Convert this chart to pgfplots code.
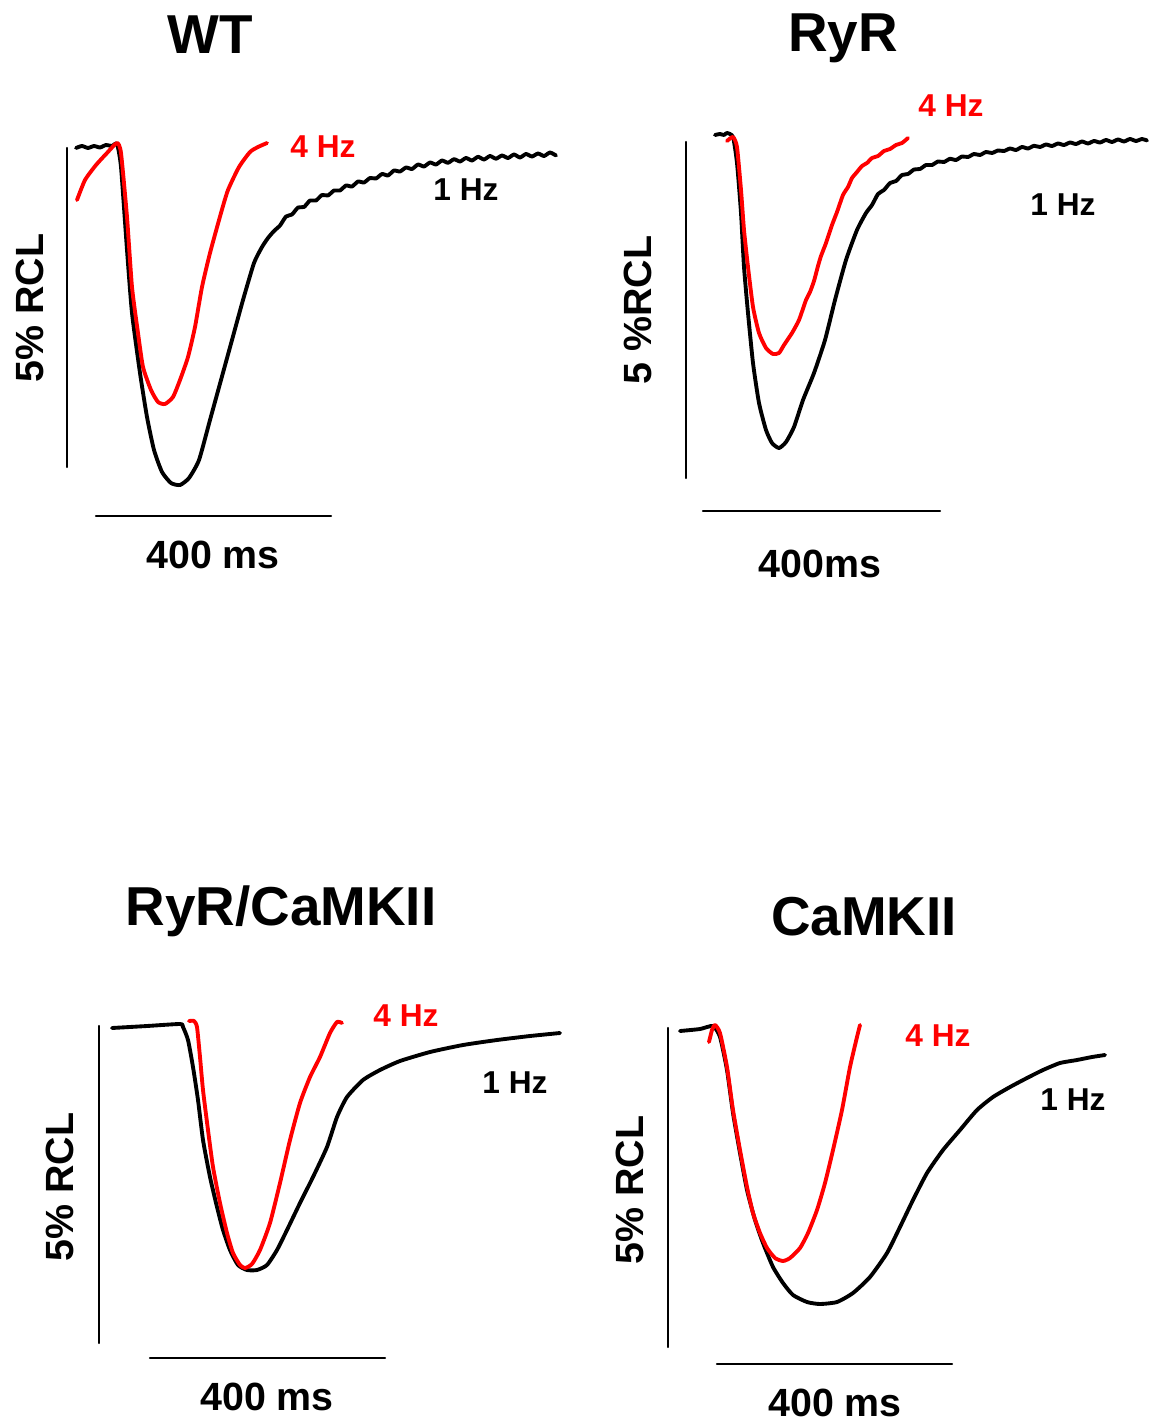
\documentclass[border=0pt]{standalone}
\usepackage{pgfplots}
\pgfplotsset{compat=1.18}
\usepackage{fontspec}
\setmainfont{Liberation Sans}
\definecolor{tr}{RGB}{255,0,0}
\begin{document}
\begin{tikzpicture}
\begin{axis}[
  width=11.49cm, height=14.2cm, scale only axis,
  xmin=0, xmax=1149, ymin=0, ymax=1420, y dir=reverse,
  hide axis, clip=false,
  every axis plot/.append style={no marks, line join=round, line cap=round},
  trace/.style={line width=1.1pt, smooth, tension=0.35},
  bar/.style={black, line width=0.7pt},
]
% ---------- WT ----------
\addplot[bar] coordinates {(67,148) (67,467)};
\addplot[bar] coordinates {(96,516) (331,516)};
\addplot[black, trace] coordinates {
(76,148) (82,146) (88,148) (94,146) (100,147.5) (106,145) (112,146) (117,144) (121,167) (127,250) (132,313) (140,373) (147,417) (154,450) (162,472) (171,483) (180,485) (189,478) (199,460) (210,420) (221,380) (232,340) (243,300) (254,263) (262,247) (268,238) (274,231)
(280,225.5) (286,216.5) (292,214.5) (298,207.5) (304,207) (310,200.5) (316,200.5) (322,195) (328,195.5) (334,190.5) (340,190.5) (346,185.5) (352,186.5) (358,181.5) (364,182.5) (370,178) (376,178.5) (382,174) (388,175.5) (394,170.5) (400,171.5) (406,167.5) (412,169) (418,164.5) (424,166.5) (430,162.5) (436,164.5) (442,160.5) (448,162.8) (454,159.2) (460,161.5) (466,158) (472,160.5) (478,156.8) (484,159.5) (490,156) (496,158.7) (502,155.5) (508,158) (514,154.5) (520,157.5) (526,154) (532,156.5) (538,153.5) (544,156) (550,152.5) (556,155.5)};
\addplot[tr, trace] coordinates {
(77,200) (85,180) (96,165) (107,153) (117,143) (121,153) (127,217) (132,287) (138,333) (143,367) (151,390) (158,402) (165,404) (173,397) (180,380) (188,357) (195,327) (202,287) (210,253) (221,213) (228,190) (239,167) (250,152) (258,147) (267,143)};
\node[font=\fontsize{15.6}{18}\selectfont\bfseries] at (axis cs:210,35) {WT};
\node[font=\fontsize{11.2}{13}\selectfont\bfseries] at (axis cs:213,555) {400 ms};
\node[font=\fontsize{11.2}{13}\selectfont\bfseries, rotate=90] at (axis cs:30,308) {5\% RCL};
\node[font=\fontsize{9}{11}\selectfont\bfseries, text=tr] at (axis cs:323,147) {4 Hz};
\node[font=\fontsize{9}{11}\selectfont\bfseries] at (axis cs:466,190) {1 Hz};
% ---------- RyR ----------
\addplot[bar] coordinates {(686,142) (686,478)};
\addplot[bar] coordinates {(703,511) (940,511)};
\addplot[black, trace] coordinates {
(715,135) (720,134) (724,135) (727,133) (733,137) (737,163) (741,213) (744,267) (748,313) (753,363) (759,403) (766,430) (772,443) (779,448) (786,442) (794,427) (803,400) (814,373) (825,340) (835,300) (846,260) (857,230)
(866,213) (872,205) (878,194) (884,190) (890,183) (896,181) (902,175) (908,174) (914,169.5) (920,169) (926,165) (932,165) (938,161.5) (944,162) (950,158.8) (956,160) (962,156.5) (968,157) (974,154) (980,155) (986,152) (992,153) (998,150.5) (1004,151) (1010,148.5) (1016,150) (1022,147) (1028,148.5) (1034,145.8) (1040,147) (1046,144.5) (1052,146) (1058,143.5) (1064,145) (1070,142.5) (1076,144) (1082,141.5) (1088,143.5) (1094,141) (1100,142.5) (1106,140) (1112,142) (1118,139.5) (1124,141.5) (1130,139) (1136,141) (1142,139) (1147,140.5)};
\addplot[tr, trace] coordinates {
(727,141) (733,137) (737,147) (741,190) (744,230) (748,267) (753,307) (759,333) (766,348) (773,354) (779,353) (784,345) (792,333) (799,320) (806,300) (810,292) (814,281) (818,266) (821,256) (826,243) (832,225) (837,212) (843,195) (848,187) (852,178) (857,172) (862,166) (867,163) (872,158) (878,156) (884,151) (890,149) (896,145) (902,143) (908,138)};
\node[font=\fontsize{15.6}{18}\selectfont\bfseries] at (axis cs:843,38) {RyR};
\node[font=\fontsize{11.2}{13}\selectfont\bfseries] at (axis cs:820,564) {400ms};
\node[font=\fontsize{11.2}{13}\selectfont\bfseries, rotate=90] at (axis cs:638,310) {5 \%RCL};
\node[font=\fontsize{9}{11}\selectfont\bfseries, text=tr] at (axis cs:951,106) {4 Hz};
\node[font=\fontsize{9}{11}\selectfont\bfseries] at (axis cs:1063,205) {1 Hz};
% ---------- RyR/CaMKII ----------
\addplot[bar] coordinates {(99,1026) (99,1343)};
\addplot[bar] coordinates {(150,1358) (385,1358)};
\addplot[black, trace] coordinates {
(112,1028) (147,1026) (180,1024) (183,1027) (188,1040) (193,1067) (198,1100) (203,1140) (210,1177) (217,1207) (223,1230) (230,1250) (238,1265) (247,1270) (257,1270) (267,1265) (277,1250) (287,1230) (300,1203) (313,1177) (327,1147) (337,1117) (347,1097) (363,1080) (380,1070) (400,1061) (430,1052) (463,1045) (497,1040) (530,1036) (560,1033)};
\addplot[tr, trace] coordinates {
(189,1021) (194,1021) (197,1027) (200,1057) (203,1090) (208,1130) (213,1167) (220,1203) (227,1233) (233,1253) (240,1265) (245,1268) (252,1264) (260,1250) (270,1223) (280,1183) (290,1140) (300,1103) (310,1077) (320,1057) (330,1033) (337,1022) (342,1023)};
\node[font=\fontsize{15.6}{18}\selectfont\bfseries] at (axis cs:281,911) {RyR/CaMKII};
\node[font=\fontsize{11.2}{13}\selectfont\bfseries] at (axis cs:267,1397) {400 ms};
\node[font=\fontsize{11.2}{13}\selectfont\bfseries, rotate=90] at (axis cs:60,1187) {5\% RCL};
\node[font=\fontsize{9}{11}\selectfont\bfseries, text=tr] at (axis cs:406,1016) {4 Hz};
\node[font=\fontsize{9}{11}\selectfont\bfseries] at (axis cs:515,1083) {1 Hz};
% ---------- CaMKII ----------
\addplot[bar] coordinates {(668,1028) (668,1347)};
\addplot[bar] coordinates {(717,1364) (952,1364)};
\addplot[black, trace] coordinates {
(680,1031) (700,1029) (713,1026) (720,1037) (727,1070) (733,1113) (740,1153) (747,1190) (755,1220) (763,1243) (773,1267) (783,1283) (793,1295) (807,1302) (820,1304) (837,1302) (853,1293) (870,1277) (887,1253) (900,1227) (913,1200) (927,1173) (943,1150) (960,1130) (977,1110) (993,1097) (1010,1087) (1027,1078) (1043,1070) (1060,1063) (1077,1060) (1092,1057) (1105,1055)};
\addplot[tr, trace] coordinates {
(709,1042) (712,1030) (715,1025) (720,1033) (727,1067) (733,1110) (740,1150) (747,1187) (753,1213) (760,1233) (767,1248) (775,1258) (783,1261) (790,1258) (800,1248) (808,1233) (817,1210) (825,1183) (833,1150) (842,1110) (850,1067) (857,1037) (860,1025)};
\node[font=\fontsize{15.6}{18}\selectfont\bfseries] at (axis cs:864,917) {CaMKII};
\node[font=\fontsize{11.2}{13}\selectfont\bfseries] at (axis cs:835,1403) {400 ms};
\node[font=\fontsize{11.2}{13}\selectfont\bfseries, rotate=90] at (axis cs:630,1190) {5\% RCL};
\node[font=\fontsize{9}{11}\selectfont\bfseries, text=tr] at (axis cs:938,1036) {4 Hz};
\node[font=\fontsize{9}{11}\selectfont\bfseries] at (axis cs:1073,1100) {1 Hz};
\end{axis}
\pgfresetboundingbox
\path[use as bounding box] (current axis.south west) rectangle (current axis.north east);
\end{tikzpicture}
\end{document}
